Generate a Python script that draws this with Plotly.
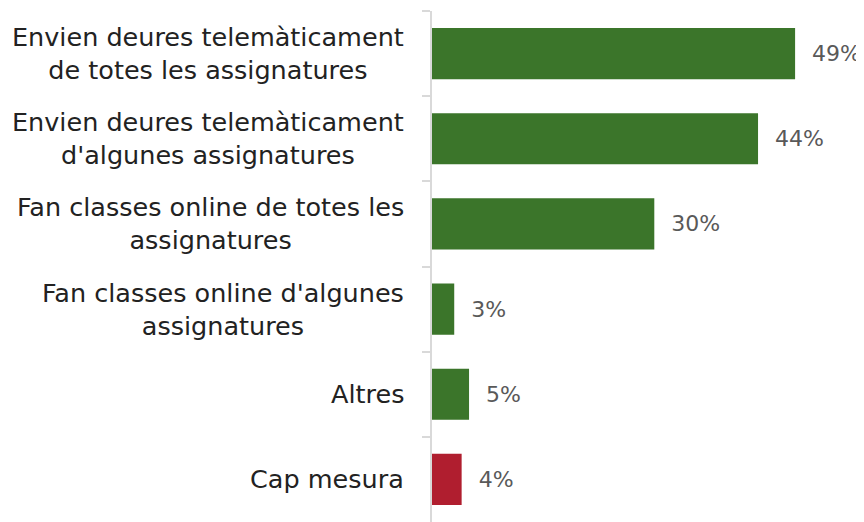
import plotly.graph_objects as go

categories = [
    "Envien deures telemàticament<br>de totes les assignatures",
    "Envien deures telemàticament<br>d'algunes assignatures",
    "Fan classes online de totes les<br>assignatures",
    "Fan classes online d'algunes<br>assignatures",
    "Altres",
    "Cap mesura",
]
values = [0.49, 0.44, 0.30, 0.03, 0.05, 0.04]
bar_colors = ["#3b752a", "#3b752a", "#3b752a", "#3b752a", "#3b752a", "#b01e2f"]

fig = go.Figure()

fig.add_trace(
    go.Bar(
        x=values,
        y=categories,
        orientation="h",
        marker=dict(color=bar_colors, line=dict(width=0)),
        texttemplate="\u00a0\u00a0%{x:.0%}",
        textposition="outside",
        textfont=dict(size=22, color="#595959"),
        cliponaxis=False,
        width=0.6,
    )
)

# category labels: right-aligned block, centred lines
for cat in categories:
    fig.add_annotation(
        x=0, xref="paper", y=cat, yref="y",
        text=cat, showarrow=False,
        xanchor="right", xshift=-26, align="center",
        font=dict(size=25.5, color="#222222"),
    )

fig.update_yaxes(
    autorange="reversed",
    tickson="boundaries",
    ticks="outside",
    ticklen=8,
    tickcolor="#d9d9d9",
    tickwidth=2,
    showline=True,
    linecolor="#d9d9d9",
    linewidth=2,
    showgrid=False,
    showticklabels=False,
    automargin=False,
)
fig.update_xaxes(range=[0, 0.583], visible=False, showgrid=False, automargin=False)

# page body has an 8px margin, so keep the figure inside the window
fig.update_layout(
    width=856,
    height=514,
    margin=dict(l=424, r=0, t=3, b=0),
    plot_bgcolor="white",
    paper_bgcolor="white",
    font=dict(family="DejaVu Sans"),
    showlegend=False,
    bargap=0.4,
)

fig.write_html("out.html")
